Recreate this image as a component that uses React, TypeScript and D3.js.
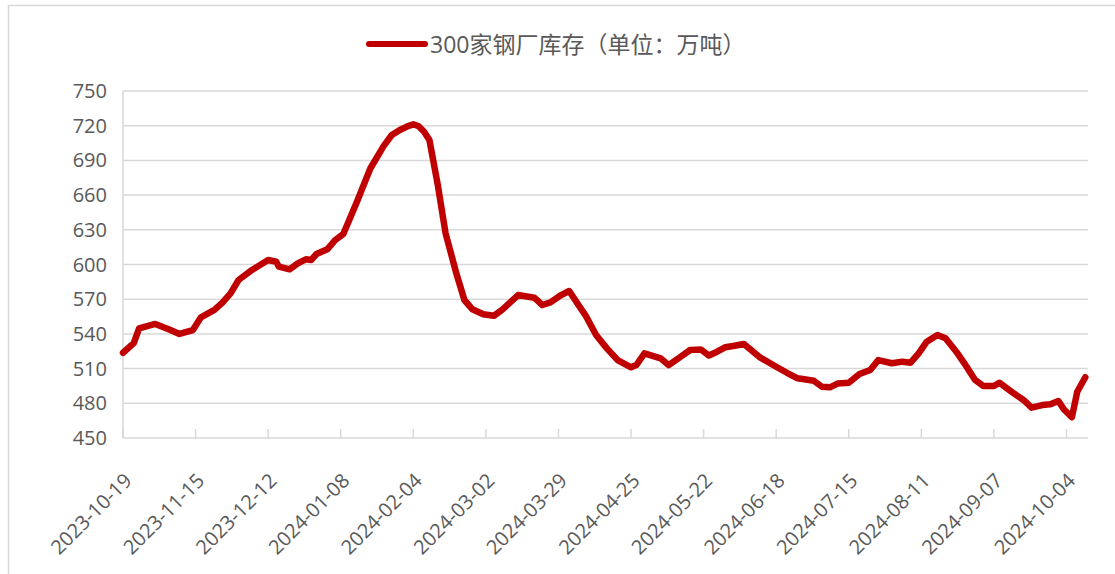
import React from 'react';
import * as d3 from 'd3';

// 300家钢厂库存（万吨），读自图
const dates = [
  '2023-10-19', '2023-10-23', '2023-10-25', '2023-10-31', '2023-11-05', '2023-11-09', '2023-11-14',
  '2023-11-17', '2023-11-22', '2023-11-25', '2023-11-28', '2023-12-01', '2023-12-06', '2023-12-12',
  '2023-12-15', '2023-12-16', '2023-12-20', '2023-12-23', '2023-12-26', '2023-12-28', '2023-12-30',
  '2024-01-03', '2024-01-06', '2024-01-09', '2024-01-14', '2024-01-19', '2024-01-24', '2024-01-27',
  '2024-01-30', '2024-02-02', '2024-02-04', '2024-02-06', '2024-02-08', '2024-02-10', '2024-02-13',
  '2024-02-16', '2024-02-20', '2024-02-23', '2024-02-26', '2024-03-01', '2024-03-05', '2024-03-08',
  '2024-03-14', '2024-03-20', '2024-03-23', '2024-03-26', '2024-03-30', '2024-04-02', '2024-04-05',
  '2024-04-08', '2024-04-12', '2024-04-16', '2024-04-20', '2024-04-25', '2024-04-27', '2024-04-30',
  '2024-05-06', '2024-05-09', '2024-05-13', '2024-05-17', '2024-05-21', '2024-05-24', '2024-05-27',
  '2024-05-30', '2024-06-02', '2024-06-06', '2024-06-12', '2024-06-18', '2024-06-22', '2024-06-26',
  '2024-07-02', '2024-07-05', '2024-07-08', '2024-07-11', '2024-07-15', '2024-07-19', '2024-07-23',
  '2024-07-26', '2024-07-31', '2024-08-04', '2024-08-07', '2024-08-10', '2024-08-13', '2024-08-17',
  '2024-08-20', '2024-08-24', '2024-08-27', '2024-08-31', '2024-09-03', '2024-09-07', '2024-09-09',
  '2024-09-14', '2024-09-18', '2024-09-21', '2024-09-25', '2024-09-28', '2024-10-01', '2024-10-03',
  '2024-10-06', '2024-10-08', '2024-10-11',
];

const stock = [
  523.7, 532, 544.8, 548.6, 544, 540, 543.3,
  554.3, 560.7, 567, 575, 586.6, 595.3, 603.9,
  602.4, 598.1, 595.8, 601, 604.5, 603.9, 609.1,
  613.1, 621.2, 626.5, 654, 683, 702.5, 712,
  716.3, 719.7, 721.2, 719.5, 714.8, 707.6, 670.2,
  627, 592.4, 569.3, 561.3, 557, 555.7, 560.7,
  573.6, 571.3, 565, 567.3, 573.6, 577.1, 566.5,
  556.3, 539, 527.5, 517.4, 511.1, 513.1, 523.2,
  518.9, 513, 519.5, 526.1, 526.5, 521.3, 524.6,
  528.4, 529.5, 531.3, 519.7, 511.6, 506.4, 501.6,
  499.5, 494.3, 493.8, 497.2, 497.8, 505.3, 508.8,
  517.4, 514.6, 516, 515.1, 523.2, 533.3, 539.1,
  536.2, 524.6, 514.6, 500.2, 495, 495, 497.8,
  489.2, 482.9, 476.2, 478.5, 479.1, 482, 474.8,
  467.9, 490, 502.5,
];

const yTicks = [450, 480, 510, 540, 570, 600, 630, 660, 690, 720, 750];
const legendLabel = '300家钢厂库存（单位：万吨）';

const W = 1115;
const H = 574;
const left = 123;
const right = 1088;
const top = 91;
const bottom = 438;

const parse = d3.timeParse('%Y-%m-%d');
const fmt = d3.timeFormat('%Y-%m-%d');
const grey = '#595959';
const font = '"Open Sans", "Noto Sans CJK SC", sans-serif';

export default function App() {
  const start = parse(dates[0]) as Date;
  const end = d3.timeDay.offset(start, 359);

  const x = d3.scaleTime().domain([start, end]).range([left, right]);
  const y = d3.scaleLinear().domain([450, 750]).range([bottom, top]);

  const xTicks = d3.range(0, 359, 27).map((d) => d3.timeDay.offset(start, d));

  const data = dates.map((d, i) => ({ date: parse(d) as Date, value: stock[i] }));
  const line = d3.line<{ date: Date; value: number }>()
    .x((d) => x(d.date))
    .y((d) => y(d.value));

  return (
    <svg width={W} height={H} style={{ position: 'absolute', left: 0, top: 0, background: '#fff' }}>
      <rect x={8.5} y={5.5} width={W + 20} height={H + 20} fill="#fff" stroke="#d9d9d9" strokeWidth={1.5} />

      {/* legend */}
      <line x1={369} x2={425} y1={44} y2={44} stroke="#C00000" strokeWidth={6} strokeLinecap="round" />
      <text x={430} y={52.5} fontSize={23} fill={grey} fontFamily={font}>{legendLabel}</text>

      {/* grid */}
      {yTicks.map((t) => (
        <g key={t}>
          <line x1={left} x2={right} y1={y(t)} y2={y(t)} stroke="#d9d9d9" strokeWidth={1.5} />
          <text x={107} y={y(t)} dy="0.35em" textAnchor="end" fontSize={20} fill={grey} fontFamily={font}>{t}</text>
        </g>
      ))}
      <line x1={left} x2={left} y1={top} y2={bottom} stroke="#d9d9d9" strokeWidth={1.5} />

      {/* x axis */}
      {xTicks.map((t, i) => (
        <g key={i}>
          <line x1={x(t)} x2={x(t)} y1={bottom - 9} y2={bottom} stroke="#d9d9d9" strokeWidth={1.5} />
          <text
            transform={`translate(${x(t) + 10},${bottom + 44}) rotate(-45)`}
            textAnchor="end"
            fontSize={20}
            fill={grey}
            fontFamily={font}
          >
            {fmt(t)}
          </text>
        </g>
      ))}

      <path d={line(data) || ''} fill="none" stroke="#C00000" strokeWidth={6.5} strokeLinejoin="round" strokeLinecap="round" />
    </svg>
  );
}
